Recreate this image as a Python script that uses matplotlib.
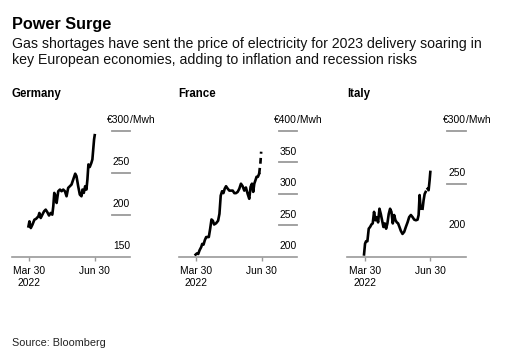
import numpy as np
import pandas as pd
import matplotlib
matplotlib.use("Agg")
import matplotlib.pyplot as plt

plt.rcParams['font.family'] = ['Liberation Sans', 'DejaVu Sans']

# days after 2022-03-30 and price in EUR/MWh
germany_days = [-1.4, 0, 1.9, 4.2, 7, 9.3, 12.6, 14, 15.9, 18.2, 20.6, 22.9, 25.2, 27.6,
                29.9, 32.2, 33.6, 35, 36.9, 38.3, 40.6, 43, 45.3, 47.6, 50, 52.3, 54.6,
                57, 59.3, 61.7, 64.5, 66.3, 68.7, 71, 73.3, 74.7, 76.6, 78.5, 80.3, 81.7,
                83.1, 85, 87.3, 88.7, 89.7, 91.1, 92]
germany_vals = [186, 192, 184, 188, 194, 195, 198, 202, 196, 200, 204, 206, 203, 199,
                202, 200, 210, 226, 222, 214, 228, 230, 228, 230, 228, 222, 232,
                234, 236, 242, 249, 246, 234, 224, 222, 230, 226, 234, 230, 242,
                260, 257, 262, 266, 276, 290, 295]

france_days = [-0.9, 1, 2.8, 4.7, 7, 8.4, 10.3, 12.1, 14, 15.9, 17.7, 19.6, 21.5, 23.4,
               25.2, 28, 30.8, 32.7, 34.5, 36.4, 38.3, 40.1, 42, 44.4, 46.7, 49, 51.4,
               53.7, 56, 58.4, 60.7, 63, 65.4, 67.7, 70, 72.4, 74.7, 76.6, 78.5, 80.3,
               81.8, 83.6, 85, 86.9, 88.7]
france_vals = [203, 205, 204, 210, 215, 220, 219, 226, 231, 231, 231, 244, 259, 257,
               251, 253, 257, 268, 297, 304, 301, 308, 312, 308, 305, 305, 305,
               301, 301, 303, 308, 316, 312, 305, 310, 300, 292, 311, 316, 303,
               316, 322, 327, 327, 332]
france_tail_days = [88.7, 90.5, 91.5]
france_tail_vals = [332, 350, 367]

italy_days = [-1.4, 0, 1.4, 3.3, 5.2, 7.1, 9, 10.8, 12.7, 14.6, 16.5, 18.4, 20.3, 22.2,
              24, 25.9, 27.8, 29.7, 31.5, 33.4, 35.3, 37.2, 39.1, 41, 42.9, 44.8, 46.6,
              48.5, 50.4, 52.8, 55.2, 57.5, 59.9, 62.2, 64.6, 67, 69.3, 71.7, 74, 75.5,
              76.9, 78.3, 79.7, 81.1, 82.5, 84, 85.4, 86.8, 88.2, 89.6, 91, 92]
italy_vals = [182.5, 192.7, 195, 195, 207, 208.6, 211, 212, 223, 215, 218, 213, 226, 221,
              215, 208.6, 212, 207, 212, 221, 226, 223, 212, 220, 215, 213, 212,
              208.6, 205, 202, 204, 208.6, 213, 218, 220, 218, 215.6, 215, 215.6, 220,
              239, 226, np.nan, 226, 234, 240, 242, np.nan, 245, 243.6, 253, 261]

start = pd.Timestamp('2022-03-30')

def to_dates(days):
    return start + pd.to_timedelta(days, unit='D')

panels = [
    ('Germany', germany_days, germany_vals, None, None, (150, 300), [150, 200, 250, 300], [200, 250, 300], 11.7),
    ('France', france_days, france_vals, france_tail_days, france_tail_vals, (200, 400), [200, 250, 300, 350, 400], [250, 300, 350, 400], 178.5),
    ('Italy', italy_days, italy_vals, None, None, (180.5, 300), [200, 250, 300], [250, 300], 347.3),
]

W, H = 523, 357
fig = plt.figure(figsize=(W / 100, H / 100), dpi=100)
fig.patch.set_facecolor('white')

fig.text(12 / W, 1 - 29.3 / H, 'Power Surge', fontsize=11.7, fontweight='bold', va='baseline')
fig.text(12 / W, 1 - 48.3 / H,
         'Gas shortages have sent the price of electricity for 2023 delivery soaring in',
         fontsize=10.2, va='baseline', color='#111111')
fig.text(12 / W, 1 - 64.3 / H,
         'key European economies, adding to inflation and recession risks',
         fontsize=10.2, va='baseline', color='#111111')
fig.text(12 / W, 1 - 346 / H, 'Source: Bloomberg', fontsize=7.8, va='baseline', color='#222222')

grey = '#9a9a9a'
top_px, bot_px, width_px = 131, 256.5, 118.5
xmin, xmax = start - pd.Timedelta(days=25), start + pd.Timedelta(days=142)

for name, days, vals, tdays, tvals, ylim, ylabels, gridvals, left in panels:
    ax = fig.add_axes([left / W, 1 - bot_px / H, width_px / W, (bot_px - top_px) / H])
    ax.plot(to_dates(days), vals, color='black', lw=1.9, solid_joinstyle='round')
    if tdays is not None:
        ax.plot(to_dates(tdays), tvals, color='black', lw=1.9, dashes=(2.2, 1.6))
    ax.set_xlim(xmin, xmax)
    ax.set_ylim(*ylim)
    for s in ['top', 'right', 'left']:
        ax.spines[s].set_visible(False)
    ax.spines['bottom'].set_color(grey)
    ax.spines['bottom'].set_linewidth(1.2)
    ax.set_yticks([])
    ax.set_xticks([start, pd.Timestamp('2022-06-30')])
    ax.set_xticklabels(['Mar 30\n2022', 'Jun 30'], fontsize=7.4)
    ax.tick_params(axis='x', length=3, color=grey, width=1, pad=4)
    for g in gridvals:
        ax.axhline(g, xmin=0.845, xmax=1, color=grey, lw=1.3, clip_on=False)
    for v in ylabels:
        txt = '€%d' % v if v == ylabels[-1] else str(v)
        ax.annotate(txt, xy=(1, v), xycoords=('axes fraction', 'data'), xytext=(0, 4),
                    textcoords='offset points', ha='right', va='bottom', fontsize=7.4,
                    annotation_clip=False)
        if v == ylabels[-1]:
            ax.annotate('/Mwh', xy=(1, v), xycoords=('axes fraction', 'data'), xytext=(0, 4),
                        textcoords='offset points', ha='left', va='bottom', fontsize=7.4,
                        annotation_clip=False)
    fig.text(left / W, 1 - 97.3 / H, name, fontsize=8.3, fontweight='bold', va='baseline')

fig.savefig('out.png', dpi=100)
